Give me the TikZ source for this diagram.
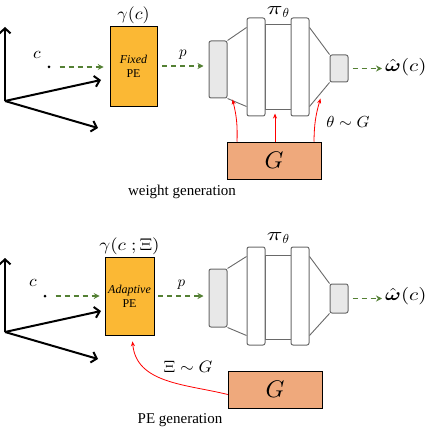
\documentclass[tikz,border=0pt]{standalone}
\usepackage{amsmath,amssymb}
\usepackage{fontspec}
\setmainfont{Liberation Serif}
\usetikzlibrary{arrows.meta,calc}
\newcommand{\mysc}[3]{\scalebox{#1}[#2]{$#3$}}
\newcommand{\mypi}{\scalebox{2.6}[1.85]{$\pi$}\raisebox{-3pt}{\scalebox{1.3}{$\theta$}}}
\definecolor{peorange}{RGB}{251,184,52}
\definecolor{gfill}{RGB}{239,169,124}
\definecolor{dgreen}{RGB}{84,128,52}
\definecolor{blkfill}{RGB}{232,232,232}
\definecolor{blkline}{RGB}{105,105,105}
\begin{document}
\begin{tikzpicture}[x=1pt,y=-1pt,
  axisarrow/.style={line width=2pt,-{Straight Barb[length=5pt,width=11pt]}},
  garrow/.style={dgreen,line width=1.3pt,dash pattern=on 5pt off 4pt,-{Stealth[length=6pt,width=6pt,inset=2pt]}},
  rarrow/.style={red,line width=0.8pt,-{Stealth[length=5pt,width=4pt]}},
  pebox/.style={draw=black,line width=0.6pt,fill=peorange,minimum width=47pt,inner sep=0pt,align=center,font=\fontsize{12}{14}\selectfont},
  gbox/.style={draw=black,line width=0.5pt,fill=gfill,minimum width=94pt,minimum height=37pt,inner sep=0pt,font=\fontsize{10}{12}\selectfont},
  blk/.style={draw=blkline,line width=1pt,rounded corners=2pt,fill=white,minimum width=18pt,inner sep=0pt},
  endblk/.style={blk,fill=blkfill},
  midrect/.style={draw=blkline,line width=1pt,fill=white,minimum width=26pt,inner sep=0pt},
  trap/.style={blkline,line width=0.9pt},
  mlabel/.style={inner sep=0pt,text=black,font=\fontsize{10}{12}\selectfont},
  caption/.style={inner sep=0pt,font=\fontsize{15}{15}\selectfont},
  cdot/.style={circle,fill=black,inner sep=0pt,minimum size=3pt}
]
\useasboundingbox (0,0) rectangle (428,430);

% ================= top panel =================
\coordinate (o1) at (5,101);
\coordinate (y1) at (5,27);
\coordinate (a1) at (101,80);
\coordinate (b1) at (98,128);
\draw[axisarrow] (o1) -- (y1);
\draw[axisarrow] (o1) -- (a1);
\draw[axisarrow] (o1) -- (b1);
\node[cdot] (d1) at (49,67) {};
\node[mlabel] (cl1) at (37,55) {\mysc{1.75}{1.65}{c}};

\node[pebox,minimum height=80pt] (pe1) at (133.5,66) {\textit{Fixed}\\PE};
\node[mlabel,anchor=south] (gam1) at ([yshift=2pt]pe1.north) {\mysc{1.8}{1.7}{\gamma(c)}};

% network
\node[midrect,minimum height=85pt] (mid1) at (278,67.5) {};
\node[endblk,minimum height=57pt] (in1) at (218,69.5) {};
\node[endblk,minimum height=27pt] (out1) at (339,68.5) {};
\node[blk,minimum height=98pt] (b1a) at (256,67) {};
\node[blk,minimum height=98pt] (b1b) at (300,67) {};
\draw[trap] (in1.north east) -- ([yshift=-10pt]b1a.north west);
\draw[trap] (in1.south east) -- ([yshift=10pt]b1a.south west);
\draw[trap] (out1.north west) -- ([yshift=-10pt]b1b.north east);
\draw[trap] (out1.south west) -- ([yshift=10pt]b1b.south east);
\node[mlabel] (pi1) at (278,12) {\mypi};
\node[mlabel,anchor=west] (om1) at (385,67) {\mysc{2.1}{1.75}{\hat{\boldsymbol{\omega}}(c)}};

\draw[garrow,shorten <=9pt,shorten >=6pt] (d1) -- (d1 -| pe1.west);
\draw[garrow,shorten <=5pt,shorten >=5pt] (pe1.east) -- (pe1.east -| in1.west) node[midway,mlabel,above=6pt] (p1) {\mysc{1.5}{1.5}{p}};
\draw[garrow,shorten <=4pt,shorten >=3pt] (out1.east) -- (out1.east -| om1.west);

\node[gbox] (g1) at (274,160.5) {\mysc{2.4}{2.4}{G}};
\draw[rarrow] ([xshift=-37pt]g1.north) to[bend right=8] ([xshift=5pt,yshift=-1pt]in1.south east);
\draw[rarrow] ([xshift=1pt]g1.north) -- ([xshift=1pt,yshift=-3pt]g1.north |- mid1.south);
\draw[rarrow] ([xshift=40pt]g1.north) to[bend left=8] ([xshift=11pt,yshift=18pt]b1b.south east);
\node[mlabel] (th1) at (348,122) {\mysc{1.65}{1.6}{\theta\sim G}};
\node[caption] (cap1) at (182,192) {weight generation};

% ================= bottom panel =================
\coordinate (o2) at (5,332);
\coordinate (y2) at (5,258);
\coordinate (a2) at (101,311);
\coordinate (b2) at (98,359);
\draw[axisarrow] (o2) -- (y2);
\draw[axisarrow] (o2) -- (a2);
\draw[axisarrow] (o2) -- (b2);
\node[cdot] (d2) at (45,296) {};
\node[mlabel] (cl2) at (33,283) {\mysc{1.75}{1.65}{c}};

\node[pebox,minimum width=49pt,minimum height=78pt] (pe2) at (129.5,296) {\textit{Adaptive}\\PE};
\node[mlabel,anchor=south] (gam2) at ([yshift=2pt]pe2.north) {\mysc{1.9}{1.7}{\gamma(c\;;\Xi)}};

\node[midrect,minimum height=84pt] (mid2) at (278,297) {};
\node[endblk,minimum height=58pt] (in2) at (218,298) {};
\node[endblk,minimum height=29pt] (out2) at (339,298.5) {};
\node[blk,minimum height=98pt] (b2a) at (256,296) {};
\node[blk,minimum height=98pt] (b2b) at (300,296) {};
\draw[trap] (in2.north east) -- ([yshift=-10pt]b2a.north west);
\draw[trap] (in2.south east) -- ([yshift=10pt]b2a.south west);
\draw[trap] (out2.north west) -- ([yshift=-10pt]b2b.north east);
\draw[trap] (out2.south west) -- ([yshift=10pt]b2b.south east);
\node[mlabel] (pi2) at (278,238) {\mypi};
\node[mlabel,anchor=west] (om2) at (385,296) {\mysc{2.1}{1.75}{\hat{\boldsymbol{\omega}}(c)}};

\draw[garrow,shorten <=9pt,shorten >=5pt] (d2) -- (d2 -| pe2.west);
\draw[garrow,shorten <=4pt,shorten >=5pt] (pe2.east) -- (pe2.east -| in2.west) node[midway,mlabel,above=6pt] (p2) {\mysc{1.5}{1.5}{p}};
\draw[garrow,shorten <=4pt,shorten >=3pt] (out2.east) -- (out2.east -| om2.west);

\node[gbox] (g2) at (275,389.5) {\mysc{2.4}{2.4}{G}};
\draw[rarrow] ([yshift=-5pt]g2.west) to[out=166,in=-85] ([xshift=3pt,yshift=-6pt]pe2.south);
\node[mlabel] (xi2) at (188,367) {\mysc{1.75}{1.65}{\Xi\sim G}};
\node[caption] (cap2) at (180,420) {PE generation};
\end{tikzpicture}
\end{document}
